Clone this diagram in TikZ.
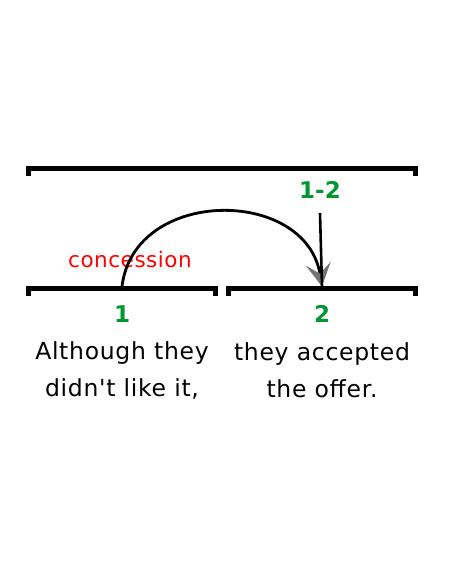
\documentclass[tikz,border=0pt]{standalone}
\usepackage{fontspec}
\setmainfont{DejaVu Sans}[Ligatures=TeXOff]
\usetikzlibrary{arrows.meta,calc}
\definecolor{rstgreen}{RGB}{0,150,50}
\tikzset{
  spanbar/.style={line width=5pt, line cap=butt},
  spantick/.style={line width=5pt},
  numlbl/.style={text=rstgreen, font=\fontsize{23}{26}\selectfont\bfseries, inner sep=0pt},
  edutext/.style={font=\fontsize{23.5}{37}\selectfont\addfontfeatures{LetterSpace=3}, align=center, inner sep=0pt},
  rellbl/.style={text=red, font=\fontsize{21.5}{24}\selectfont\addfontfeatures{LetterSpace=2.5}, inner sep=0pt},
  relarc/.style={line width=2.8pt, -{Stealth[length=23pt,width=25pt,inset=10pt,color=black!55]}},
}
\begin{document}
\begin{tikzpicture}[x=1pt,y=1pt]
\useasboundingbox (0,0) rectangle (450,586);
% top span 1-2
\coordinate (tL) at (26,417);
\coordinate (tR) at (418,417);
\draw[spanbar] (tL) -- (tR);
\draw[spantick] ($(tL)+(2.5,2.5)$) -- ++(0,-10);
\draw[spantick] ($(tR)+(-2.5,2.5)$) -- ++(0,-10);
% left span 1
\coordinate (aL) at (26,297);
\coordinate (aR) at (218,297);
\draw[spanbar] (aL) -- (aR);
\draw[spantick] ($(aL)+(2.5,2.5)$) -- ++(0,-10);
\draw[spantick] ($(aR)+(-2.5,2.5)$) -- ++(0,-10);
% right span 2
\coordinate (bL) at (226,297);
\coordinate (bR) at (418,297);
\draw[spanbar] (bL) -- (bR);
\draw[spantick] ($(bL)+(2.5,2.5)$) -- ++(0,-10);
\draw[spantick] ($(bR)+(-2.5,2.5)$) -- ++(0,-10);
% labels
\node[numlbl] (l12) at (320,396) {1-2};
\node[numlbl] (l1) at (122,272) {1};
\node[numlbl] (l2) at (322,272) {2};
\node[edutext] (e1) at (122,216) {Although they\\didn't like it,};
\node[edutext] (e2) at (322,216) {they accepted\\the offer.};
\node[rellbl] (rel) at (130,327) {concession};
% connectors
\coordinate (arcS) at (122,299.5);
\coordinate (arcE) at (322,299.5);
\coordinate (topS) at (320,373);
\draw[relarc] (arcS) .. controls (134,399) and (306,399) .. (arcE);
\draw[line width=2.6pt] (topS) -- (arcE);
\end{tikzpicture}
\end{document}
